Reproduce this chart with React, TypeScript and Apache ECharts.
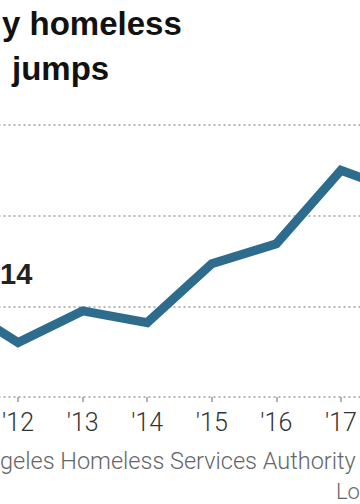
import React, { useEffect, useRef } from "react";
import * as echarts from "echarts";

const years = ["'11", "'12", "'13", "'14", "'15", "'16", "'17", "'18"];
const homeless = [40500, 36000, 39500, 38200, 44700, 46900, 55000, 52400];
const yTicks = [30000, 40000, 50000, 60000];
const visibleYears = ["'12", "'13", "'14", "'15", "'16", "'17"];
const titleLines = ["y homeless", "jumps"];
const annotation = "14";
const sourceText = "geles Homeless Services Authority";
const creditText = "Lo";

export default function App() {
  const ref = useRef<HTMLDivElement>(null);
  useEffect(() => {
    if (!ref.current) return;
    const chart = echarts.init(ref.current, null, { renderer: "svg" });
    const showIdx = (i: number) => visibleYears.indexOf(years[i]) >= 0;
    chart.setOption({
      animation: false,
      grid: {
        left: -46.5,
        width: 452,
        top: 125,
        bottom: 107,
        containLabel: false,
        outerBoundsMode: "none",
      },
      xAxis: {
        type: "category",
        data: years,
        boundaryGap: false,
        axisLine: { show: false },
        axisTick: {
          show: true,
          length: 5,
          interval: (i: number) => showIdx(i),
          lineStyle: { color: "#999", width: 1.5 },
        },
        axisLabel: {
          interval: (i: number) => showIdx(i),
          margin: 13,
          fontFamily: "Roboto",
          fontWeight: 300,
          fontSize: 25,
          color: "#333",
        },
        splitLine: { show: false },
      },
      yAxis: {
        type: "value",
        min: yTicks[0],
        max: yTicks[yTicks.length - 1],
        interval: 10000,
        axisLine: { show: false },
        axisTick: { show: false },
        axisLabel: { show: false },
        splitLine: { show: true, lineStyle: { color: "#b5b5b5", width: 2, type: [2, 3] } },
      },
      series: [
        {
          type: "line",
          data: homeless,
          symbol: "none",
          clip: true,
          lineStyle: { color: "#2e6c8d", width: 9, join: "miter" },
        },
      ],
      graphic: [
        {
          type: "text",
          left: 2,
          top: 7,
          style: { text: titleLines[0], font: "bold 33px 'Liberation Sans'", fill: "#111" },
        },
        {
          type: "text",
          left: 12,
          top: 52,
          style: { text: titleLines[1], font: "bold 33px 'Liberation Sans'", fill: "#111" },
        },
        {
          type: "text",
          x: 0,
          y: 274,
          style: {
            text: annotation,
            font: "bold 29px 'Liberation Sans'",
            fill: "#222",
            align: "left",
            verticalAlign: "middle",
          },
        },
        {
          type: "text",
          x: 0,
          y: 461,
          style: {
            text: sourceText,
            font: "300 23.5px Roboto",
            fill: "#666",
            verticalAlign: "middle",
          },
        },
        {
          type: "text",
          x: 336,
          y: 502,
          style: {
            text: creditText,
            font: "300 22px Roboto",
            fill: "#666",
            verticalAlign: "bottom",
          },
        },
      ],
    });
    return () => chart.dispose();
  }, []);
  return <div ref={ref} style={{ width: 360, height: 504, position: "absolute", left: 0, top: 0 }} />;
}
